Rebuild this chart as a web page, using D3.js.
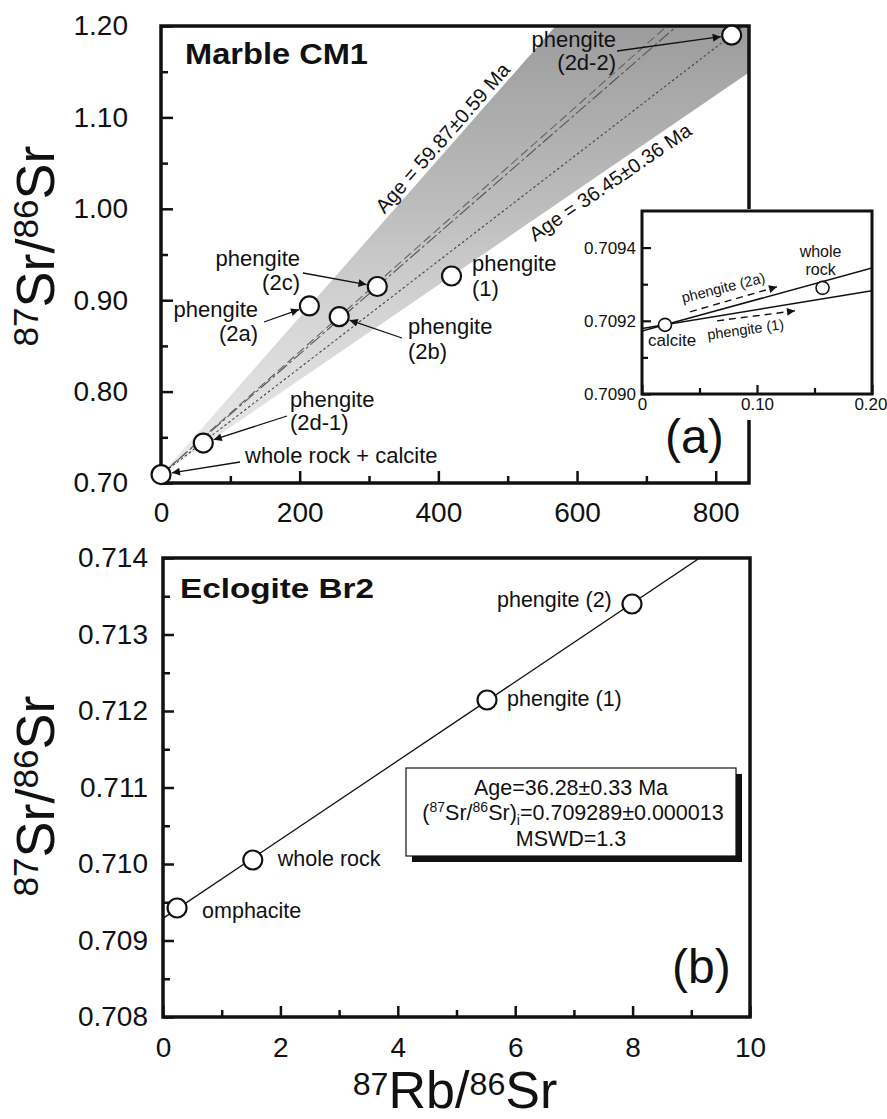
<!DOCTYPE html>
<html><head><meta charset="utf-8">
<script src="https://cdn.jsdelivr.net/npm/d3@7"></script>
<style>body{margin:0;background:#fff} svg text{font-family:"Liberation Sans",Arial,Helvetica,sans-serif;fill:#111}</style>
</head><body><svg id="c" width="887" height="1119"></svg>
<script>
// ---------------- DATA ----------------
// (a) Marble CM1
const marbleNames = ["whole rock + calcite","phengite (2d-1)","phengite (2a)","phengite (2b)","phengite (2c)","phengite (1)","phengite (2d-2)"];
const marbleRb = [0.1, 61, 214, 257, 312, 419, 823];
const marbleSr = [0.7092, 0.7437, 0.8937, 0.8820, 0.9150, 0.9265, 1.1900];
const marbleXMajor = [0, 200, 400, 600, 800];
const marbleXMinor = [100, 300, 500, 700];
const marbleYMajor = [0.70, 0.80, 0.90, 1.00, 1.10, 1.20];
const marbleYMinor = [0.75, 0.85, 0.95, 1.05, 1.15];
const marbleAgeLabels = ["Age = 59.87±0.59 Ma", "Age = 36.45±0.36 Ma"];
// inset of (a)
const insetNames = ["calcite", "whole rock"];
const insetRb = [0.02, 0.157];
const insetSr = [0.709189, 0.709290];
const insetLineNames = ["phengite (2a)", "phengite (1)"];
const insetXMajor = [0, 0.10, 0.20];
const insetXMinor = [0.05, 0.15];
const insetYMajor = [0.7090, 0.7092, 0.7094];
const insetYMinor = [0.7091, 0.7093];
// (b) Eclogite Br2
const eclNames = ["omphacite", "whole rock", "phengite (1)", "phengite (2)"];
const eclRb = [0.24, 1.53, 5.52, 7.99];
const eclSr = [0.709425, 0.710052, 0.712144, 0.713399];
const eclXMajor = [0, 2, 4, 6, 8, 10];
const eclXMinor = [1, 3, 5, 7, 9];
const eclYMajor = [0.708, 0.709, 0.710, 0.711, 0.712, 0.713, 0.714];
const eclYMinor = [0.7085, 0.7095, 0.7105, 0.7115, 0.7125, 0.7135];
const eclAge = 36.28, eclAgeErr = 0.33, eclInit = 0.709289, eclInitErr = 0.000013, eclMSWD = 1.3;
const LAMBDA = 1.42e-11;

// ---------------- DRAW ----------------
const svg = d3.select("#c");
const defs = svg.append("defs");
defs.append("marker").attr("id","arr").attr("viewBox","0 0 10 10").attr("refX",10).attr("refY",5)
  .attr("markerUnits","userSpaceOnUse").attr("markerWidth",11).attr("markerHeight",8).attr("orient","auto")
  .append("path").attr("d","M0,0 L10,5 L0,10 Z").attr("fill","#111");
defs.append("marker").attr("id","arr2").attr("viewBox","0 0 10 10").attr("refX",10).attr("refY",5)
  .attr("markerUnits","userSpaceOnUse").attr("markerWidth",12).attr("markerHeight",8).attr("orient","auto")
  .append("path").attr("d","M0,0 L10,5 L0,10 Z").attr("fill","#111");
const grad = defs.append("linearGradient").attr("id","shade").attr("gradientUnits","userSpaceOnUse")
  .attr("x1",0).attr("y1",483).attr("x2",0).attr("y2",26);
[[0,"#ececec"],[0.35,"#d6d6d6"],[0.6,"#bdbdbd"],[1,"#9c9c9c"]].forEach(s=>grad.append("stop").attr("offset",s[0]).attr("stop-color",s[1]));

function axesFor(g, x, y, o){
  const y0 = y.range()[0], x0 = x.range()[0];
  const bx = g.append("g").attr("transform",`translate(0,${y0})`);
  bx.call(d3.axisBottom(x).tickValues(o.xMinor).tickSize(-o.minor).tickFormat(""));
  const bx2 = g.append("g").attr("transform",`translate(0,${y0})`);
  bx2.call(d3.axisBottom(x).tickValues(o.xMajor).tickSize(-o.major).tickPadding(o.xpad).tickFormat(o.xfmt));
  const ly = g.append("g").attr("transform",`translate(${x0},0)`);
  ly.call(d3.axisLeft(y).tickValues(o.yMinor).tickSize(-o.minor).tickFormat(""));
  const ly2 = g.append("g").attr("transform",`translate(${x0},0)`);
  ly2.call(d3.axisLeft(y).tickValues(o.yMajor).tickSize(-o.major).tickPadding(o.ypad).tickFormat(o.yfmt));
  [bx,bx2,ly,ly2].forEach(a=>{
    a.select(".domain").remove();
    a.selectAll("line").attr("stroke","#111").attr("stroke-width",o.tw);
    a.attr("font-family",null).attr("font-size",o.fs);
    a.selectAll("text").attr("fill","#111");
  });
  return bx2;
}
function supTitle(g, parts, size, raise, scale){
  const t = g.append("text").attr("text-anchor","middle").attr("font-size",size);
  let sup=false;
  parts.forEach(p=>{
    const ts = t.append("tspan").text(p[0]);
    if(p[1] && !sup){ ts.attr("font-size",size*scale).attr("dy",-size*raise); sup=true; }
    else if(!p[1] && sup){ ts.attr("dy",size*raise); sup=false; }
  });
  return t;
}
function arrow(g, x1,y1, px,py, r, marker, dash){
  const dx=px-x1, dy=py-y1, L=Math.hypot(dx,dy);
  const ex=px-dx/L*(r+1.5), ey=py-dy/L*(r+1.5);
  const l=g.append("line").attr("x1",x1).attr("y1",y1).attr("x2",ex).attr("y2",ey)
    .attr("stroke","#111").attr("stroke-width",1.3).attr("marker-end",`url(#${marker})`);
  if(dash) l.attr("stroke-dasharray",dash);
}

// ===== Panel (a) =====
const xA = d3.scaleLinear().domain([0,848]).range([161,749]);
const yA = d3.scaleLinear().domain([0.70,1.20]).range([483,26]);
const gA = svg.append("g");
defs.append("clipPath").attr("id","clipA").append("rect")
  .attr("x",xA(0)).attr("y",yA(1.2)).attr("width",xA(848)-xA(0)).attr("height",yA(0.7)-yA(1.2));
const r0 = marbleSr[0], x0r = marbleRb[0];
const slope = i => (marbleSr[i]-r0)/(marbleRb[i]-x0r);
const sUp = slope(2), sLo = slope(5);
const XB = 3000;
const plot = gA.append("g").attr("clip-path","url(#clipA)");
plot.append("path").attr("fill","url(#shade)")
  .attr("d",`M${xA(x0r)},${yA(r0)} L${xA(XB)},${yA(r0+sUp*(XB-x0r))} L${xA(XB)},${yA(r0+sLo*(XB-x0r))} Z`);
function refLine(i, dash, col, w){
  const s = slope(i);
  plot.append("line").attr("x1",xA(x0r)).attr("y1",yA(r0)).attr("x2",xA(XB)).attr("y2",yA(r0+s*(XB-x0r)))
    .attr("stroke",col).attr("stroke-width",w).attr("stroke-dasharray",dash).attr("fill","none");
}
refLine(4, "13,3,3,3", "#555", 1.1);
refLine(3, "9,4", "#666", 1.1);
refLine(6, "2.5,2.5", "#444", 1.1);

const angUp = Math.atan2(yA(r0+sUp*500)-yA(r0), xA(500)-xA(0))*180/Math.PI;
const angLo = Math.atan2(yA(r0+sLo*500)-yA(r0), xA(500)-xA(0))*180/Math.PI;
function alongLine(s, xv, perp){
  const px = xA(xv), py = yA(r0+s*(xv-x0r));
  const a = Math.atan2(yA(r0+s*500)-yA(r0), xA(500)-xA(0));
  return [px + Math.sin(a)*perp, py - Math.cos(a)*perp];
}
const pU = alongLine(sUp, 418, 4);
gA.append("text").attr("transform",`translate(${pU[0]},${pU[1]}) rotate(${angUp})`)
  .attr("text-anchor","middle").attr("font-size",20).text(marbleAgeLabels[0]);
const pL = alongLine(sLo, 638, -19);
gA.append("text").attr("transform",`translate(${pL[0]},${pL[1]}) rotate(${angLo})`)
  .attr("text-anchor","middle").attr("font-size",20).text(marbleAgeLabels[1]);

// frame + axes
gA.append("rect").attr("x",xA(0)).attr("y",yA(1.2)).attr("width",xA(848)-xA(0)).attr("height",yA(0.7)-yA(1.2))
  .attr("fill","none").attr("stroke","#111").attr("stroke-width",3.5);
axesFor(gA, xA, yA, {xMajor:marbleXMajor,xMinor:marbleXMinor,yMajor:marbleYMajor,yMinor:marbleYMinor,
  major:12,minor:7,tw:2.5,fs:28,xpad:19,ypad:33,xfmt:d3.format("d"),yfmt:d3.format(".2f")});

// points, labels
const lab = [
  {lines:["whole rock + calcite"], anchor:"start", tx:245, ty:[463], arr:[240,462]},
  {lines:["phengite","(2d-1)"], anchor:"start", tx:290, ty:[407,430], arr:[287,416]},
  {lines:["phengite","(2a)"], anchor:"end", tx:258, ty:[317,341], arr:[264,322]},
  {lines:["phengite","(2b)"], anchor:"start", tx:408, ty:[334,359], arr:[402,338]},
  {lines:["phengite","(2c)"], anchor:"end", tx:300, ty:[266,290], arr:[303,273]},
  {lines:["phengite","(1)"], anchor:"start", tx:472, ty:[271,296], arr:null},
  {lines:["phengite","(2d-2)"], anchor:"end", tx:616, ty:[47,70], arr:[617,51]}
];
marbleRb.forEach((v,i)=>{
  const px=xA(v), py=yA(marbleSr[i]);
  const L = lab[i];
  const dx = L.tx - xA(marbleRb[i]), dy0 = L.ty.map(t=>t - yA(marbleSr[i]));
  L.lines.forEach((s,k)=>gA.append("text").attr("x",px+dx).attr("y",py+dy0[k]).attr("text-anchor",L.anchor).attr("font-size",22).text(s));
  if(L.arr) arrow(gA, px+(L.arr[0]-xA(marbleRb[i])), py+(L.arr[1]-yA(marbleSr[i])), px, py, 9.5, "arr");
});
gA.selectAll("circle.pa").data(marbleRb).join("circle").attr("class","pa")
  .attr("cx",d=>xA(d)).attr("cy",(d,i)=>yA(marbleSr[i])).attr("r",9.5)
  .attr("fill","#fff").attr("stroke","#111").attr("stroke-width",2.2);
gA.append("text").attr("x",185).attr("y",64).attr("font-size",29).attr("font-weight","bold")
  .attr("textLength",183).attr("lengthAdjust","spacingAndGlyphs").text("Marble CM1");

// ===== Inset =====
const xI = d3.scaleLinear().domain([0,0.2]).range([642,872]);
const yI = d3.scaleLinear().domain([0.7090,0.7095]).range([394,211]);
const gI = svg.append("g");
gI.append("rect").attr("x",xI(0)-2).attr("y",yI(0.7095)-2).attr("width",887-xI(0)+2).attr("height",420-yI(0.7095)+2).attr("fill","#fff");
defs.append("clipPath").attr("id","clipI").append("rect").attr("x",xI(0)).attr("y",yI(0.7095)).attr("width",xI(0.2)-xI(0)).attr("height",yI(0.709)-yI(0.7095));
const pI = gI.append("g").attr("clip-path","url(#clipI)");
[sUp, sLo].forEach(s=>{
  pI.append("line").attr("x1",xI(0)).attr("y1",yI(insetSr[0]+s*(0-insetRb[0])))
    .attr("x2",xI(0.2)).attr("y2",yI(insetSr[0]+s*(0.2-insetRb[0])))
    .attr("stroke","#111").attr("stroke-width",1.5);
});
gI.append("rect").attr("x",xI(0)).attr("y",yI(0.7095)).attr("width",xI(0.2)-xI(0)).attr("height",yI(0.709)-yI(0.7095))
  .attr("fill","none").attr("stroke","#111").attr("stroke-width",3);
const ixAxis = axesFor(gI, xI, yI, {xMajor:insetXMajor,xMinor:insetXMinor,yMajor:insetYMajor,yMinor:insetYMinor,
  major:9,minor:6,tw:2.2,fs:17,xpad:4,ypad:6,xfmt:d=>d===0?"0":d3.format(".2f")(d),yfmt:d3.format(".4f")});
ixAxis.selectAll("text").filter(d=>d===0.2).attr("text-anchor","end").attr("x",15);
gI.selectAll("circle.pi").data(insetRb).join("circle").attr("class","pi")
  .attr("cx",d=>xI(d)).attr("cy",(d,i)=>yI(insetSr[i])).attr("r",6.5)
  .attr("fill","#fff").attr("stroke","#111").attr("stroke-width",1.6);
{
  const cx=xI(insetRb[0]), cy=yI(insetSr[0]);
  gI.append("text").attr("x",cx-17).attr("y",cy+21).attr("font-size",17).text(insetNames[0]);
  const wx=xI(insetRb[1]), wy=yI(insetSr[1]);
  gI.append("text").attr("x",wx-2).attr("y",wy-31).attr("text-anchor","middle").attr("font-size",16).text("whole");
  gI.append("text").attr("x",wx-2).attr("y",wy-13).attr("text-anchor","middle").attr("font-size",16).text("rock");
  gI.append("text").attr("transform",`translate(${cx+18},${cy-22}) rotate(-14)`).attr("font-size",14.5).text(insetLineNames[0]);
  gI.append("text").attr("transform",`translate(${cx+43},${cy+15}) rotate(-8)`).attr("font-size",14.5).text(insetLineNames[1]);
  gI.append("line").attr("x1",cx+25).attr("y1",cy-13).attr("x2",cx+112).attr("y2",cy-38)
    .attr("stroke","#111").attr("stroke-width",1.4).attr("stroke-dasharray","7,5").attr("marker-end","url(#arr2)");
  gI.append("line").attr("x1",cx+52).attr("y1",cy-4).attr("x2",cx+130).attr("y2",cy-14)
    .attr("stroke","#111").attr("stroke-width",1.4).attr("stroke-dasharray","7,5").attr("marker-end","url(#arr2)");
}
svg.append("text").attr("x",665).attr("y",453).attr("font-size",48).text("(a)");

// ===== Panel (b) =====
const xB = d3.scaleLinear().domain([0,10]).range([163,750]);
const yB = d3.scaleLinear().domain([0.708,0.714]).range([1017,558]);
const gB = svg.append("g");
defs.append("clipPath").attr("id","clipB").append("rect").attr("x",xB(0)).attr("y",yB(0.714)).attr("width",xB(10)-xB(0)).attr("height",yB(0.708)-yB(0.714));
const eclSlope = Math.exp(LAMBDA*eclAge*1e6)-1;
gB.append("g").attr("clip-path","url(#clipB)").append("line")
  .attr("x1",xB(0)).attr("y1",yB(eclInit)).attr("x2",xB(10)).attr("y2",yB(eclInit+eclSlope*10))
  .attr("stroke","#111").attr("stroke-width",1.3);
gB.append("rect").attr("x",xB(0)).attr("y",yB(0.714)).attr("width",xB(10)-xB(0)).attr("height",yB(0.708)-yB(0.714))
  .attr("fill","none").attr("stroke","#111").attr("stroke-width",3.5);
axesFor(gB, xB, yB, {xMajor:eclXMajor,xMinor:eclXMinor,yMajor:eclYMajor,yMinor:eclYMinor,
  major:11,minor:7,tw:2.5,fs:28,xpad:20,ypad:15,xfmt:d3.format("d"),yfmt:d3.format(".3f")});
const labB = [[25,10],[25,6],[20,6],[-135,3]];
eclRb.forEach((v,i)=>{
  gB.append("text").attr("x",xB(v)+labB[i][0]).attr("y",yB(eclSr[i])+labB[i][1]).attr("font-size",21.5).text(eclNames[i]);
});
gB.selectAll("circle.pb").data(eclRb).join("circle").attr("class","pb")
  .attr("cx",d=>xB(d)).attr("cy",(d,i)=>yB(eclSr[i])).attr("r",9.5)
  .attr("fill","#fff").attr("stroke","#111").attr("stroke-width",2.2);
gB.append("text").attr("x",180).attr("y",598).attr("font-size",28).attr("font-weight","bold")
  .attr("textLength",194).attr("lengthAdjust","spacingAndGlyphs").text("Eclogite Br2");
// info box
gB.append("rect").attr("x",412).attr("y",774).attr("width",330).attr("height",88).attr("fill","#111");
gB.append("rect").attr("x",406).attr("y",768).attr("width",330).attr("height",88).attr("fill","#fff").attr("stroke","#111").attr("stroke-width",1.2);
gB.append("text").attr("x",571).attr("y",795).attr("text-anchor","middle").attr("font-size",21.5)
  .text(`Age=${eclAge.toFixed(2)}±${eclAgeErr.toFixed(2)} Ma`);
{
  const t = gB.append("text").attr("x",573).attr("y",820).attr("text-anchor","middle").attr("font-size",21.5);
  t.append("tspan").text("(");
  t.append("tspan").attr("font-size",14).attr("dy",-8).text("87");
  t.append("tspan").attr("dy",8).text("Sr/");
  t.append("tspan").attr("font-size",14).attr("dy",-8).text("86");
  t.append("tspan").attr("dy",8).text("Sr)");
  t.append("tspan").attr("font-size",14).attr("dy",5).text("i");
  t.append("tspan").attr("dy",-5).text(`=${eclInit.toFixed(6)}±${eclInitErr.toFixed(6)}`);
}
gB.append("text").attr("x",571).attr("y",846).attr("text-anchor","middle").attr("font-size",21.5).text(`MSWD=${eclMSWD.toFixed(1)}`);
svg.append("text").attr("x",672).attr("y",983).attr("font-size",48).text("(b)");

// ===== Axis titles =====
const srParts = [["87",true],["Sr/",false],["86",true],["Sr",false]];
supTitle(svg.append("g").attr("transform","translate(54,246) rotate(-90)"), srParts, 54, 0.3, 0.65);
supTitle(svg.append("g").attr("transform","translate(54,796) rotate(-90)"), srParts, 54, 0.3, 0.65);
supTitle(svg.append("g").attr("transform","translate(455,1108)"), [["87",true],["Rb/",false],["86",true],["Sr",false]], 52, 0.25, 0.62);
</script></body></html>
